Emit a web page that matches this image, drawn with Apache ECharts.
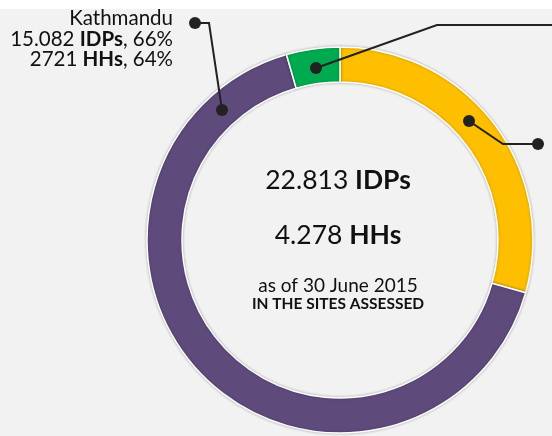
<!DOCTYPE html>
<html style="height: 100%">
<head>
<meta charset="utf-8">
<script src="https://cdn.jsdelivr.net/npm/echarts@6/dist/echarts.min.js"></script>
</head>
<body style="height: 100%; margin: 0">
<div id="container" style="width: 552px; height: 436px"></div>
<script type="text/javascript">

// slices, clockwise from 12 o'clock
let regions = ['Region 2', 'Kathmandu', 'Region 3'];
let idps = [6710, 15082, 1021];
let colors = ['#fdbf00', '#5f4a7c', '#00ab4f'];

let totalIdps = '22.813';
let totalHhs = '4.278';

let font = 'Lato';
let ink = '#222222';

let chart = echarts.init(document.getElementById('container'));

function dot(x, y) {
    return { type: 'circle', z: 10, shape: { cx: x, cy: y, r: 6 }, style: { fill: ink } };
}
function line(points) {
    return { type: 'polyline', z: 10, shape: { points: points }, style: { stroke: ink, lineWidth: 2, fill: null } };
}
function txt(x, y, text, align, rich, size) {
    return {
        type: 'text', z: 10, x: x, y: y,
        style: {
            text: text, align: align, verticalAlign: 'middle',
            fontFamily: font, fontSize: size, fill: '#111', rich: rich
        }
    };
}

let boldStyle = function (size) {
    return { b: { fontFamily: font, fontSize: size, fontWeight: 'bold', fill: '#111' },
             n: { fontFamily: font, fontSize: size, fill: '#111' } };
};

chart.setOption({
    backgroundColor: {
        type: 'linear', x: 0, y: 0, x2: 0, y2: 1,
        colorStops: [
            { offset: 0, color: '#ffffff' },
            { offset: 9 / 436, color: '#ffffff' },
            { offset: 9 / 436, color: '#f2f2f2' },
            { offset: 1, color: '#f2f2f2' }
        ]
    },
    series: [{
        type: 'pie',
        center: [340, 240],
        radius: [158, 193],
        startAngle: 90,
        clockwise: true,
        silent: true,
        label: { show: false },
        labelLine: { show: false },
        itemStyle: {
            borderColor: '#ffffff', borderWidth: 1.5,
            shadowBlur: 3, shadowColor: 'rgba(0,0,0,0.25)'
        },
        data: regions.map(function (r, i) {
            return { name: r, value: idps[i], itemStyle: { color: colors[i] } };
        })
    }],
    graphic: [
        // Kathmandu leader
        line([[222, 110], [209, 23], [195, 23]]),
        dot(222, 110), dot(195, 23),
        // green leader
        line([[316, 68], [437, 25], [552, 25]]),
        dot(316, 68),
        // yellow leader
        line([[469, 121], [503, 144], [538, 144]]),
        dot(469, 121), dot(538, 144),

        txt(173, 18, 'Kathmandu', 'right', null, 20.5),
        txt(173, 39, '{n|15.082 }{b|IDPs}{n|, 66%}', 'right', boldStyle(20.5), 20.5),
        txt(173, 59, '{n|2721 }{b|HHs}{n|, 64%}', 'right', boldStyle(20.5), 20.5),

        txt(338, 180, '{n|' + totalIdps + ' }{b|IDPs}', 'center', boldStyle(26.5), 26.5),
        txt(338, 235, '{n|' + totalHhs + ' }{b|HHs}', 'center', boldStyle(26.5), 26.5),
        txt(338, 286, 'as of 30 June 2015', 'center', null, 19),
        {
            type: 'text', z: 10, x: 338, y: 304,
            style: {
                text: 'IN THE SITES ASSESSED', align: 'center', verticalAlign: 'middle',
                fontFamily: font, fontSize: 15.5, fontWeight: 'bold', fill: '#111'
            }
        }
    ]
});

</script>
</body>
</html>
